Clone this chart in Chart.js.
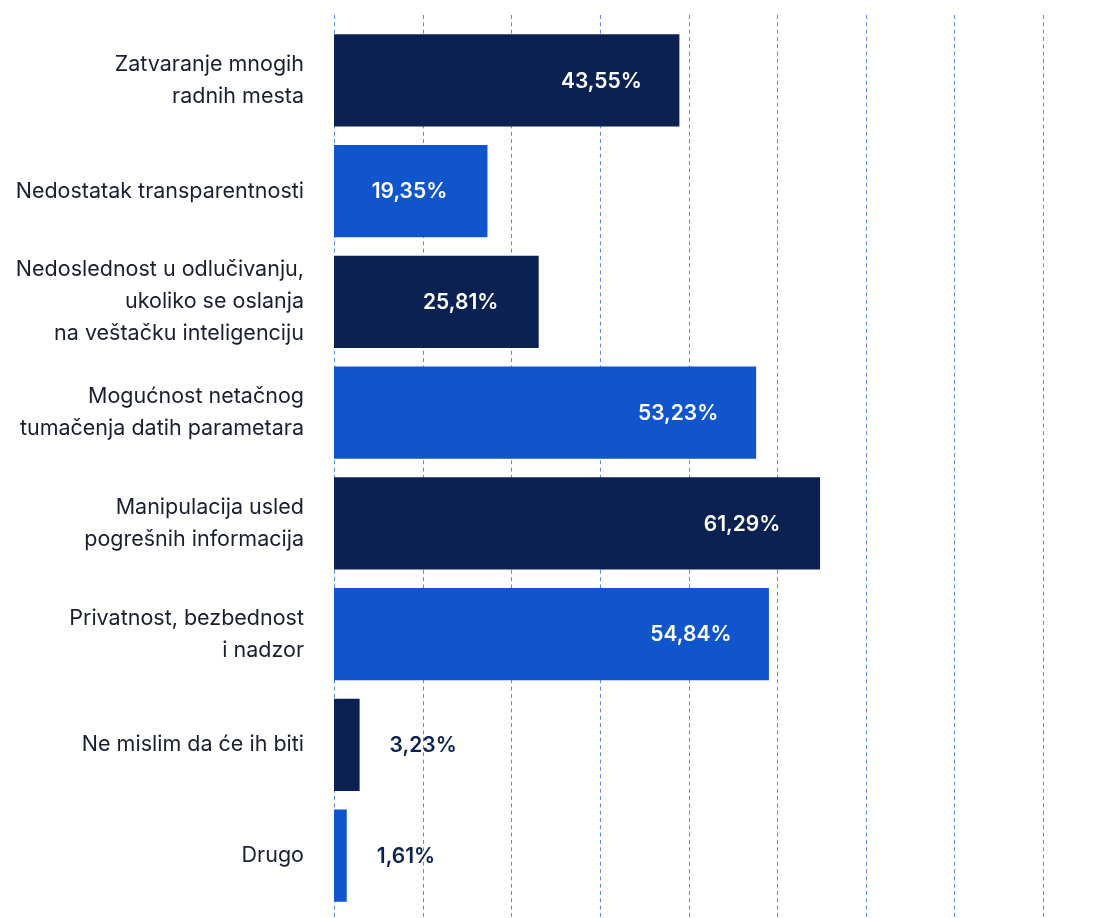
<!DOCTYPE html>
<html>
<head>
<meta charset="utf-8">
<script src="https://cdn.jsdelivr.net/npm/chart.js@4/dist/chart.umd.min.js"></script>
<style>
  html, body { margin: 0; padding: 0; background: #ffffff; }
  #wrap { width: 1120px; height: 918px; position: relative; }
</style>
</head>
<body>
<div id="wrap"><canvas id="c" width="1120" height="918"></canvas></div>
<script>
const categories = [
  ["Zatvaranje mnogih", "radnih mesta"],
  ["Nedostatak transparentnosti"],
  ["Nedoslednost u odlučivanju,", "ukoliko se oslanja", "na veštačku inteligenciju"],
  ["Mogućnost netačnog", "tumačenja datih parametara"],
  ["Manipulacija usled", "pogrešnih informacija"],
  ["Privatnost, bezbednost", "i nadzor"],
  ["Ne mislim da će ih biti"],
  ["Drugo"]
];
const values = [43.55, 19.35, 25.81, 53.23, 61.29, 54.84, 3.23, 1.61];
const valueLabels = ["43,55%", "19,35%", "25,81%", "53,23%", "61,29%", "54,84%", "3,23%", "1,61%"];
const axisMax = 89.4;
const gridCount = 8;

const NAVY = "#0a2151";
const BLUE = "#1155cc";
const barColors = values.map((v, i) => i % 2 === 0 ? NAVY : BLUE);

const gridPlugin = {
  id: "dashedGrid",
  beforeDatasetsDraw(chart) {
    const x = chart.scales.x;
    const ctx = chart.ctx;
    ctx.save();
    ctx.strokeStyle = "rgba(60,120,230,0.85)";
    ctx.lineWidth = 1;
    ctx.setLineDash([4, 3.3]);
    x.ticks.forEach(t => {
      const px = Math.round(x.getPixelForValue(t.value)) + 0.5;
      ctx.beginPath();
      ctx.moveTo(px, 15);
      ctx.lineTo(px, chart.height);
      ctx.stroke();
    });
    ctx.restore();
  }
};

const labelPlugin = {
  id: "valueLabels",
  afterDatasetsDraw(chart) {
    const ctx = chart.ctx;
    const meta = chart.getDatasetMeta(0);
    ctx.save();
    ctx.font = "600 21px Inter";
    ctx.textBaseline = "middle";
    meta.data.forEach((bar, i) => {
      const w = bar.x - bar.base;
      if (w > 100) {
        ctx.fillStyle = "#ffffff";
        ctx.textAlign = "center";
        ctx.fillText(valueLabels[i], bar.x - 78, bar.y + 1);
      } else {
        ctx.fillStyle = NAVY;
        ctx.textAlign = "left";
        ctx.fillText(valueLabels[i], bar.x + 30, bar.y + 1);
      }
    });
    ctx.restore();
  }
};

new Chart(document.getElementById("c"), {
  type: "bar",
  data: {
    labels: categories,
    datasets: [{
      data: values,
      backgroundColor: barColors,
      borderWidth: 0,
      categoryPercentage: 1,
      barPercentage: 0.835
    }]
  },
  options: {
    indexAxis: "y",
    responsive: false,
    animation: false,
    devicePixelRatio: 1,
    layout: { padding: { top: 25, bottom: 7, right: 77, left: 0 } },
    plugins: { legend: { display: false }, tooltip: { enabled: false } },
    scales: {
      x: {
        min: 0,
        max: axisMax,
        display: true,
        border: { display: false },
        grid: { display: false, drawTicks: false },
        ticks: { display: false },
        afterBuildTicks(scale) {
          const t = [];
          for (let i = 0; i <= gridCount; i++) t.push({ value: axisMax * i / gridCount });
          scale.ticks = t;
        },
        afterFit(scale) { scale.height = 0; scale.paddingLeft = 0; scale.paddingRight = 0; }
      },
      y: {
        border: { display: false },
        grid: { display: false, drawTicks: false },
        ticks: {
          color: "#1a1f2e",
          padding: 30,
          font: { family: "Inter", size: 21.5, weight: "400", lineHeight: 1.49 }
        },
        afterFit(scale) {
          scale.width = 334;
          scale.paddingTop = 0;
          scale.paddingBottom = 0;
        }
      }
    }
  },
  plugins: [gridPlugin, labelPlugin]
});
</script>
</body>
</html>
